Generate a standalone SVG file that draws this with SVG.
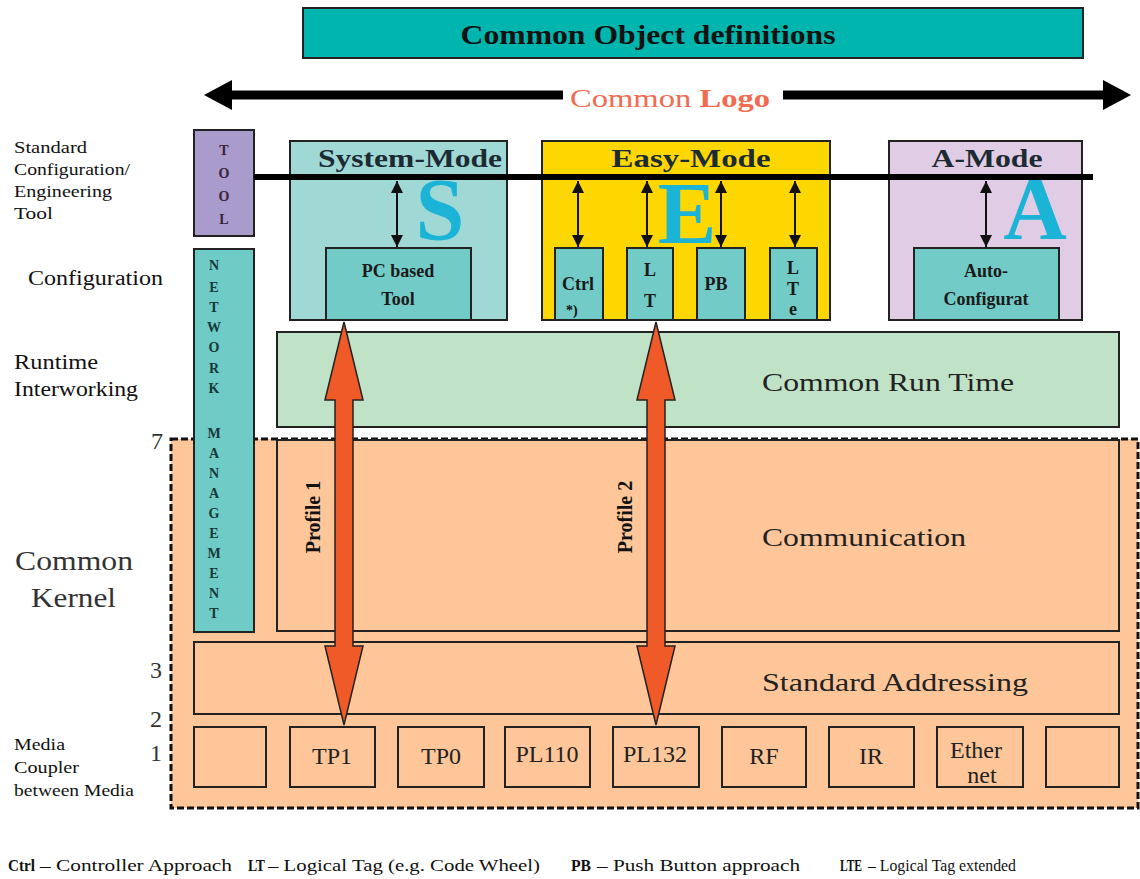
<svg xmlns="http://www.w3.org/2000/svg" width="1140" height="879" viewBox="0 0 1140 879" font-family="Tinos, 'Liberation Serif', 'Times New Roman', Times, serif">
<style>
text{font-family:Tinos,"Liberation Serif","Times New Roman",Times,serif;fill:#111}
.b{font-weight:bold}
.box{stroke:#222;stroke-width:2}
.mode{fill:#1c2b33;font-weight:bold;font-size:25px;text-anchor:middle}
.big{fill:#1cb4d6;font-weight:bold;font-size:88px;text-anchor:middle}
.sub{font-weight:bold;font-size:18px;text-anchor:middle;fill:#1a1a1a}
.lbl{font-size:17px}
.layer{font-size:26px;fill:#222}
.media{font-size:24px;text-anchor:middle;fill:#222}
.vl{font-weight:bold;font-size:14px;text-anchor:middle}
.lg{font-size:16px}
.thin{stroke:#111;stroke-width:2;fill:none;marker-start:url(#ah);marker-end:url(#ah)}
.prof{fill:#f05a28;stroke:#222;stroke-width:1.5;stroke-linejoin:miter}
</style>
<defs>
<marker id="ah" viewBox="0 0 10 10" refX="10" refY="5" markerWidth="6" markerHeight="6" orient="auto-start-reverse" markerUnits="strokeWidth">
<path d="M0,0 L10,5 L0,10 Z" fill="#111"/>
</marker>
</defs>

<g id="common-object">
<rect x="303" y="8" width="780" height="50" fill="#00b5ad" class="box" stroke-width="1.5"/>
<text x="648" y="44" class="b" font-size="28" text-anchor="middle" textLength="375" lengthAdjust="spacingAndGlyphs">Common Object definitions</text>
</g>

<g id="common-logo">
<line x1="225" y1="95" x2="563" y2="95" stroke="#000" stroke-width="9"/>
<line x1="783" y1="95" x2="1110" y2="95" stroke="#000" stroke-width="9"/>
<path d="M204,95 L232,80 L232,110 Z" fill="#000"/>
<path d="M1131,95 L1103,80 L1103,110 Z" fill="#000"/>
<text x="570" y="107" font-size="26" style="fill:#f26b50" textLength="200" lengthAdjust="spacingAndGlyphs">Common  <tspan font-weight="bold" style="fill:#f26b50">Logo</tspan></text>
</g>

<g id="left-labels">
<text x="14" y="153" class="lbl" textLength="73" lengthAdjust="spacingAndGlyphs">Standard</text>
<text x="14" y="175" class="lbl" textLength="116" lengthAdjust="spacingAndGlyphs">Configuration/</text>
<text x="14" y="197" class="lbl" textLength="98" lengthAdjust="spacingAndGlyphs">Engineering</text>
<text x="14" y="219" class="lbl" textLength="39" lengthAdjust="spacingAndGlyphs">Tool</text>
<text x="28" y="285" font-size="20" textLength="135" lengthAdjust="spacingAndGlyphs">Configuration</text>
<text x="14" y="369" font-size="21" textLength="84" lengthAdjust="spacingAndGlyphs">Runtime</text>
<text x="14" y="396" font-size="21" textLength="124" lengthAdjust="spacingAndGlyphs">Interworking</text>
<text x="15" y="570" font-size="28" style="fill:#333" textLength="118" lengthAdjust="spacingAndGlyphs">Common</text>
<text x="31" y="607" font-size="28" style="fill:#333" textLength="85" lengthAdjust="spacingAndGlyphs">Kernel</text>
<text x="14" y="750" class="lbl" textLength="51" lengthAdjust="spacingAndGlyphs">Media</text>
<text x="14" y="773" class="lbl" textLength="65" lengthAdjust="spacingAndGlyphs">Coupler</text>
<text x="14" y="796" class="lbl" textLength="120" lengthAdjust="spacingAndGlyphs">between Media</text>
<text x="157" y="449" font-size="24" text-anchor="middle" style="fill:#333">7</text>
<text x="156" y="678" font-size="24" text-anchor="middle" style="fill:#333">3</text>
<text x="156" y="727" font-size="24" text-anchor="middle" style="fill:#333">2</text>
<text x="156" y="761" font-size="24" text-anchor="middle" style="fill:#333">1</text>
</g>

<g id="kernel-area">
<rect x="171" y="439" width="967" height="369" fill="#fec699" stroke="#111" stroke-width="3" stroke-dasharray="7,3"/>
</g>

<g id="tool">
<rect x="194" y="130" width="60" height="106" fill="#a99bcb" class="box"/>
<text x="224" y="155" class="vl" style="fill:#3a1f3a">T</text>
<text x="224" y="178" class="vl" style="fill:#3a1f3a">O</text>
<text x="224" y="201" class="vl" style="fill:#3a1f3a">O</text>
<text x="224" y="224" class="vl" style="fill:#3a1f3a">L</text>
</g>

<g id="network-management">
<rect x="194" y="249" width="60" height="383" fill="#6ecbc6" class="box"/>
<text class="vl" style="fill:#173838">
<tspan x="214" y="270">N</tspan><tspan x="214" y="292">E</tspan><tspan x="214" y="312">T</tspan><tspan x="214" y="332">W</tspan><tspan x="214" y="352">O</tspan><tspan x="214" y="373">R</tspan><tspan x="214" y="393">K</tspan><tspan x="214" y="438">M</tspan><tspan x="214" y="458">A</tspan><tspan x="214" y="478">N</tspan><tspan x="214" y="498">A</tspan><tspan x="214" y="518">G</tspan><tspan x="214" y="538">E</tspan><tspan x="214" y="558">M</tspan><tspan x="214" y="578">E</tspan><tspan x="214" y="598">N</tspan><tspan x="214" y="618">T</tspan>
</text>
</g>

<g id="system-mode">
<rect x="290" y="141" width="217" height="179" fill="#a0d8d6" class="box"/>
<text x="410" y="167" class="mode" textLength="184" lengthAdjust="spacingAndGlyphs">System-Mode</text>
<text x="440" y="239" class="big">S</text>
<rect x="326" y="248" width="145" height="72" fill="#72cbc6" class="box" stroke-width="1.5"/>
<text x="398" y="277" class="sub">PC based</text>
<text x="398" y="305" class="sub">Tool</text>
</g>

<g id="easy-mode">
<rect x="542" y="141" width="288" height="179" fill="#ffd700" class="box"/>
<text x="691" y="167" class="mode" textLength="159" lengthAdjust="spacingAndGlyphs">Easy-Mode</text>
<text x="687" y="243" class="big">E</text>
<rect x="555" y="248" width="48" height="72" fill="#72cbc6" class="box" stroke-width="1.5"/>
<rect x="627" y="248" width="46" height="72" fill="#72cbc6" class="box" stroke-width="1.5"/>
<rect x="697" y="248" width="48" height="72" fill="#72cbc6" class="box" stroke-width="1.5"/>
<rect x="770" y="248" width="47" height="72" fill="#72cbc6" class="box" stroke-width="1.5"/>
<text x="578" y="290" class="sub">Ctrl</text>
<text x="566" y="315" font-size="14" class="b">*)</text>
<text x="650" y="276" class="sub" font-size="20">L</text>
<text x="650" y="307" class="sub" font-size="20">T</text>
<text x="716" y="290" class="sub">PB</text>
<text x="793" y="274" class="sub" font-size="15">L</text>
<text x="793" y="295" class="sub" font-size="15">T</text>
<text x="793" y="315" class="sub" font-size="12">e</text>
</g>

<g id="a-mode">
<rect x="889" y="141" width="193" height="179" fill="#e0cce4" class="box"/>
<text x="987" y="167" class="mode" textLength="111" lengthAdjust="spacingAndGlyphs">A-Mode</text>
<text x="1035" y="238" class="big">A</text>
<rect x="914" y="248" width="145" height="72" fill="#72cbc6" class="box" stroke-width="1.5"/>
<text x="986" y="277" class="sub">Auto-</text>
<text x="986" y="305" class="sub">Configurat</text>
</g>

<g id="runtime">
<rect x="277" y="332" width="842" height="95" fill="#c0e2c7" class="box" stroke-width="1.5"/>
<text x="762" y="391" class="layer" textLength="252" lengthAdjust="spacingAndGlyphs">Common Run Time</text>
</g>

<g id="communication">
<rect x="277" y="440" width="842" height="191" fill="#fec699" class="box" stroke-width="1.5"/>
<text x="762" y="546" class="layer" textLength="204" lengthAdjust="spacingAndGlyphs">Communication</text>
</g>

<g id="addressing">
<rect x="194" y="642" width="925" height="72" fill="#fec699" class="box" stroke-width="1.5"/>
<text x="762" y="691" class="layer" textLength="266" lengthAdjust="spacingAndGlyphs">Standard Addressing</text>
</g>

<g id="media">
<rect x="194" y="727" width="72" height="60" fill="#fec699" class="box" stroke-width="1.5"/>
<rect x="290" y="727" width="85" height="60" fill="#fec699" class="box" stroke-width="1.5"/>
<text x="332" y="764" class="media">TP1</text>
<rect x="398" y="727" width="86" height="60" fill="#fec699" class="box" stroke-width="1.5"/>
<text x="441" y="764" class="media">TP0</text>
<rect x="505" y="727" width="85" height="60" fill="#fec699" class="box" stroke-width="1.5"/>
<text x="547" y="762" class="media">PL110</text>
<rect x="613" y="727" width="86" height="60" fill="#fec699" class="box" stroke-width="1.5"/>
<text x="655" y="762" class="media">PL132</text>
<rect x="722" y="727" width="84" height="60" fill="#fec699" class="box" stroke-width="1.5"/>
<text x="764" y="764" class="media">RF</text>
<rect x="829" y="727" width="85" height="60" fill="#fec699" class="box" stroke-width="1.5"/>
<text x="871" y="764" class="media">IR</text>
<rect x="937" y="727" width="86" height="60" fill="#fec699" class="box" stroke-width="1.5"/>
<text x="976" y="758" class="media" font-size="22">Ether</text>
<text x="982" y="783" class="media" font-size="22">net</text>
<rect x="1046" y="727" width="73" height="60" fill="#fec699" class="box" stroke-width="1.5"/>
</g>

<g id="connectors">
<line x1="254" y1="177" x2="1093" y2="177" stroke="#000" stroke-width="6"/>
<line x1="397" y1="181" x2="397" y2="247" class="thin"/>
<line x1="578" y1="181" x2="578" y2="247" class="thin"/>
<line x1="647" y1="181" x2="647" y2="247" class="thin"/>
<line x1="721" y1="181" x2="721" y2="247" class="thin"/>
<line x1="795" y1="181" x2="795" y2="247" class="thin"/>
<line x1="986" y1="181" x2="986" y2="247" class="thin"/>
<path class="prof" d="M344,322 L363,400 L353,400 L353,646 L363,646 L344,725 L325,646 L335,646 L335,400 L325,400 Z"/>
<path class="prof" d="M656,322 L675,400 L665,400 L665,646 L675,646 L656,725 L637,646 L647,646 L647,400 L637,400 Z"/>
<text transform="translate(320,517) rotate(-90)" class="b" font-size="20" text-anchor="middle">Profile 1</text>
<text transform="translate(632,517) rotate(-90)" class="b" font-size="20" text-anchor="middle">Profile 2</text>
</g>

<g id="legend">
<text x="8" y="871" class="lg b" textLength="27" lengthAdjust="spacingAndGlyphs">Ctrl</text>
<text x="40" y="871" class="lg" textLength="192" lengthAdjust="spacingAndGlyphs">– Controller  Approach</text>
<text x="248" y="871" class="lg b" textLength="17" lengthAdjust="spacingAndGlyphs">LT</text>
<text x="268" y="871" class="lg" textLength="272" lengthAdjust="spacingAndGlyphs">– Logical Tag (e.g. Code Wheel)</text>
<text x="571" y="871" class="lg b" textLength="20" lengthAdjust="spacingAndGlyphs">PB</text>
<text x="597" y="871" class="lg" textLength="203" lengthAdjust="spacingAndGlyphs">– Push Button approach</text>
<text x="840" y="871" class="lg b" textLength="22" lengthAdjust="spacingAndGlyphs">LTE</text>
<text x="868" y="871" class="lg" textLength="148" lengthAdjust="spacingAndGlyphs">– Logical Tag extended</text>
</g>
</svg>
